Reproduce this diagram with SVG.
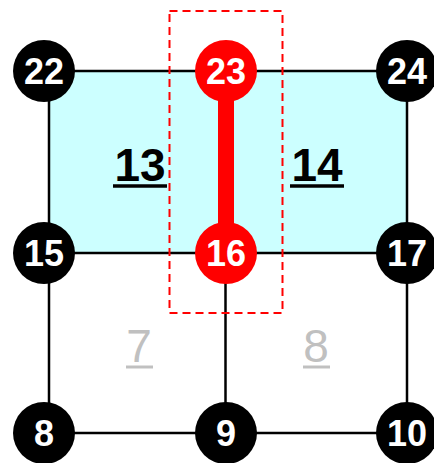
<svg xmlns="http://www.w3.org/2000/svg" width="434" height="463" viewBox="0 0 434 463">
<style>
.ln{stroke:#000;stroke-width:2.5;fill:none}
.nb circle{fill:#000}
.nr circle{fill:#ff0000}
.nt{font-family:"Liberation Sans",Arial,sans-serif;font-weight:bold;font-size:36px;fill:#fff;text-anchor:middle}
.el{font-family:"Liberation Sans",Arial,sans-serif;font-weight:bold;font-size:46px;fill:#000;text-anchor:middle}
.eg{font-family:"Liberation Sans",Arial,sans-serif;font-size:46px;fill:#c0c0c0;text-anchor:middle}
.ul{stroke:#000;stroke-width:3.5}
.ug{stroke:#c0c0c0;stroke-width:3}
</style>
<rect x="49" y="71" width="358" height="182" fill="#ccffff"/>
<g id="connectors">
<line class="ln" x1="44" y1="71" x2="407" y2="71"/>
<line class="ln" x1="44" y1="253" x2="407" y2="253"/>
<line class="ln" x1="44" y1="433" x2="407" y2="433"/>
<line class="ln" x1="49" y1="71" x2="49" y2="433"/>
<line class="ln" x1="225.5" y1="253" x2="225.5" y2="433"/>
<line class="ln" x1="407" y1="71" x2="407" y2="433"/>
<line x1="226" y1="71" x2="226" y2="253" stroke="#ff0000" stroke-width="16"/>
</g>
<rect x="169.5" y="11" width="113" height="302" fill="none" stroke="#ff0000" stroke-width="2" stroke-dasharray="8,5"/>
<g id="e13"><text class="el" x="140" y="181">13</text><line class="ul" x1="113" y1="186" x2="167" y2="186"/></g>
<g id="e14"><text class="el" x="317" y="181">14</text><line class="ul" x1="290" y1="186" x2="344" y2="186"/></g>
<g id="e7"><text class="eg" x="139" y="362">7</text><line class="ug" x1="126" y1="367" x2="153" y2="367"/></g>
<g id="e8"><text class="eg" x="316" y="362">8</text><line class="ug" x1="303" y1="367" x2="330" y2="367"/></g>
<g id="n22" class="nb"><circle cx="44" cy="71" r="31"/><text class="nt" x="44" y="84">22</text></g>
<g id="n23" class="nr"><circle cx="226" cy="71" r="31"/><text class="nt" x="226" y="84">23</text></g>
<g id="n24" class="nb"><circle cx="407" cy="71" r="31"/><text class="nt" x="407" y="84">24</text></g>
<g id="n15" class="nb"><circle cx="44" cy="253" r="31"/><text class="nt" x="44" y="266">15</text></g>
<g id="n16" class="nr"><circle cx="226" cy="253" r="31"/><text class="nt" x="226" y="266">16</text></g>
<g id="n17" class="nb"><circle cx="407" cy="253" r="31"/><text class="nt" x="407" y="266">17</text></g>
<g id="n8" class="nb"><circle cx="44" cy="433" r="31"/><text class="nt" x="44" y="446">8</text></g>
<g id="n9" class="nb"><circle cx="226" cy="433" r="31"/><text class="nt" x="226" y="446">9</text></g>
<g id="n10" class="nb"><circle cx="407" cy="433" r="31"/><text class="nt" x="407" y="446">10</text></g>
</svg>
